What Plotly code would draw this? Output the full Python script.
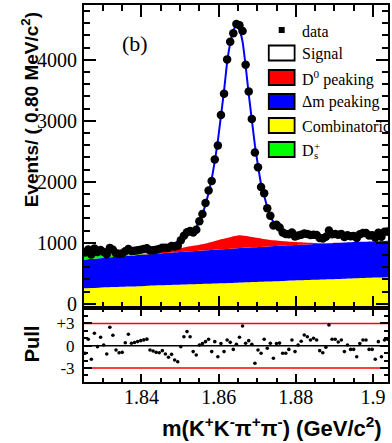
import numpy as np
import plotly.graph_objects as go

# ---------------- data ----------------
bin_lo = 1.825
bin_w = 0.0008
n_bins = 100

data_counts = [842, 891, 806, 904, 847, 881, 849, 812, 916, 885,
               828, 818, 822, 862, 897, 864, 870, 878, 887, 897,
               908, 874, 879, 885, 896, 918, 917, 917, 945, 938,
               951, 1041, 1114, 1173, 1191, 1167, 1215, 1354, 1471, 1652,
               1857, 2014, 2366, 2597, 3097, 3443, 4008, 4299, 4437, 4589,
               4566, 4474, 3920, 3480, 3031, 2479, 2237, 1914, 1811, 1566,
               1442, 1283, 1296, 1252, 1169, 1142, 1140, 1167, 1101, 1121,
               1130, 1153, 1142, 1126, 1133, 1126, 1079, 1071, 1098, 1201,
               1140, 1143, 1133, 1144, 1093, 1125, 1107, 1109, 1078, 1140,
               1158, 1161, 1121, 1124, 1082, 1165, 1099, 1179, 1185, 1166]

fit_total = [872, 866, 860, 855, 851, 848, 846, 845, 844, 844,
             845, 846, 848, 850, 852, 855, 858, 862, 867, 874,
             882, 891, 901, 912, 925, 938, 952, 966, 982, 999,
             1020, 1045, 1075, 1110, 1150, 1195, 1260, 1350, 1460, 1630,
             1820, 2050, 2340, 2675, 3080, 3490, 3960, 4270, 4470, 4575,
             4490, 4300, 3900, 3440, 3020, 2600, 2265, 1960, 1775, 1580,
             1430, 1345, 1285, 1240, 1205, 1177, 1157, 1141, 1128, 1118,
             1110, 1105, 1102, 1100, 1100, 1100, 1101, 1103, 1105, 1108,
             1111, 1114, 1116, 1118, 1120, 1122, 1124, 1126, 1128, 1130,
             1132, 1135, 1138, 1141, 1144, 1147, 1150, 1153, 1156, 1159]

pulls = [-1.03, 0.86, -1.84, 1.68, -0.13, 1.14, 0.10, -1.12, 2.49, 1.40,
         -0.58, -0.95, -0.90, 0.40, 1.54, 0.32, 0.42, 0.55, 0.68, 0.78,
         0.88, -0.58, -0.72, -0.90, -0.95, -0.67, -1.12, -1.57, -1.17, -1.93,
         -2.16, -0.13, 1.20, 1.90, 1.20, -0.80, -1.26, 0.10, 0.30, 0.54,
         0.86, -0.80, 0.54, -1.50, 0.30, -0.80, 0.77, 0.45, -0.50, 0.20,
         1.13, 2.66, 0.32, 0.68, 0.20, -2.38, -0.58, -1.03, 0.86, -0.35,
         0.32, -1.70, 0.30, 0.35, -1.03, -1.03, -0.50, 0.77, -0.80, 0.10,
         0.60, 1.45, 1.20, 0.77, 1.00, 0.77, -0.67, -0.95, -0.20, 2.80,
         0.86, 0.86, 0.50, 0.77, -0.80, 0.10, -0.50, -0.50, -1.50, 0.30,
         0.77, 0.77, -0.50, -0.50, -1.84, 0.54, -1.50, 0.77, 0.86, 0.20]

# background components sampled every 4 MeV from 1.825 to 1.905
comp_lo = 1.825
comp_step = 0.004
combinatoric = [255, 264, 273, 282, 292, 301, 310, 319, 328, 337, 346,
                356, 365, 374, 383, 392, 401, 410, 420, 429, 438]
dm_peaking = [467, 481, 493, 504, 514, 524, 533, 542, 550, 558, 565,
              570, 575, 580, 584, 588, 591, 594, 595, 597, 598]
ds_comp = [70, 68, 50, 22, 4, 0, 0, 0, 0, 0, 0,
           0, 0, 0, 0, 0, 0, 0, 0, 0, 0]
d0_peaking = [0, 0, 0, 0, 8, 30, 55, 85, 115, 165, 210,
              165, 110, 70, 40, 15, 5, 0, 0, 0, 0]

x_tick_vals = [1.84, 1.86, 1.88, 1.9]
x_tick_text = ["1.84", "1.86", "1.88", "1.9"]
pull_tick_vals = [-3, 0, 3]
pull_tick_text = ["-3", "0", "+3"]
pull_limits = [3, -3]

legend_labels = ["data", "Signal", "D<sup>0</sup> peaking", "\u0394m peaking", "Combinatoric", "D"]
legend_colors = [None, "#ffffff", "#ff0000", "#0000ff", "#ffff00", "#00ff00"]

# ---------------- geometry ----------------
W, H = 392, 443
ML, MR, MT, MB = 84, 2, 5, 61
PW, PH = W - ML - MR, H - MT - MB
split_px = 307.5
split = (H - MB - split_px) / PH

x_range = [1.8251, 1.9039]
y_range = [-62, 4900]
y2_range = [-4.9, 5.15]


def px_x(px):
    return (px - ML) / PW


def px_y(py):
    return (H - MB - py) / PH


centers = bin_lo + bin_w * (np.arange(n_bins) + 0.5)
knots = comp_lo + comp_step * np.arange(len(combinatoric))

c1 = np.array(combinatoric, float)
c2 = c1 + np.array(dm_peaking, float)
c3 = c2 + np.array(ds_comp, float)
c4 = c3 + np.array(d0_peaking, float)

fig = go.Figure()
fig.add_trace(go.Scatter(x=knots, y=[y_range[0]] * len(knots), mode="lines",
                         line=dict(width=0), showlegend=False, hoverinfo="skip"))
for cum, col in [(c1, "#ffff00"), (c2, "#0000ff"), (c3, "#00ff00"), (c4, "#ff0000")]:
    fig.add_trace(go.Scatter(x=knots, y=cum, mode="lines", fill="tonexty",
                             fillcolor=col, line=dict(width=0, shape="spline", smoothing=0.6),
                             showlegend=False, hoverinfo="skip"))

fig.add_trace(go.Scatter(x=centers, y=fit_total, mode="lines",
                         line=dict(color="#0000ff", width=2, shape="spline", smoothing=0.5),
                         showlegend=False))
fig.add_trace(go.Scatter(x=centers, y=data_counts, mode="markers",
                         marker=dict(color="black", size=8.5), showlegend=False))

fig.add_trace(go.Scatter(x=centers, y=pulls, mode="markers", xaxis="x2", yaxis="y2",
                         marker=dict(color="black", size=3.6), showlegend=False))

shapes = []
for v in pull_limits:
    shapes.append(dict(type="line", xref="x2 domain", x0=0, x1=1, yref="y2", y0=v, y1=v,
                       line=dict(color="#ff0000", width=1.5), layer="below"))
shapes.append(dict(type="line", xref="x2 domain", x0=0, x1=1, yref="y2", y0=0, y1=0,
                   line=dict(color="black", width=1.5), layer="below"))

# legend
annotations = []
serif = "Liberation Serif"
sans = "Liberation Sans"
row_y = [30, 53, 77.5, 101.5, 125.5, 149.5]
box_x0, box_x1, text_x = 270, 296, 301
for i, (lab, col) in enumerate(zip(legend_labels, legend_colors)):
    yc = row_y[i]
    if col is None:
        shapes.append(dict(type="rect", xref="paper", yref="paper",
                           x0=px_x(280), x1=px_x(286), y0=px_y(yc + 3), y1=px_y(yc - 3),
                           fillcolor="black", line=dict(width=0)))
    else:
        shapes.append(dict(type="rect", xref="paper", yref="paper",
                           x0=px_x(box_x0), x1=px_x(box_x1), y0=px_y(yc + 7.5), y1=px_y(yc - 7.5),
                           fillcolor=col, line=dict(color="black", width=1.8)))
    annotations.append(dict(text=lab, xref="paper", yref="paper", x=px_x(text_x), y=px_y(yc + 1),
                            xanchor="left", yanchor="middle", showarrow=False,
                            font=dict(family=serif, size=16, color="black")))
# D_s^+ sub/superscripts
annotations.append(dict(text="s", xref="paper", yref="paper", x=px_x(314), y=px_y(row_y[5] + 5),
                        xanchor="left", yanchor="middle", showarrow=False,
                        font=dict(family=serif, size=11, color="black")))
annotations.append(dict(text="+", xref="paper", yref="paper", x=px_x(313.5), y=px_y(row_y[5] - 4),
                        xanchor="left", yanchor="middle", showarrow=False,
                        font=dict(family=serif, size=11, color="black")))

annotations.append(dict(text="(b)", xref="paper", yref="paper", x=px_x(135), y=px_y(43),
                        xanchor="center", yanchor="middle", showarrow=False,
                        font=dict(family=serif, size=22, color="black")))
annotations.append(dict(text="<b>Events/ ( 0.80 MeV/c<sup>2</sup>)</b>", xref="paper", yref="paper",
                        x=px_x(30), y=px_y(110), textangle=-90, xanchor="center", yanchor="middle",
                        showarrow=False, font=dict(family=sans, size=19, color="black")))
annotations.append(dict(text="<b>Pull</b>", xref="paper", yref="paper",
                        x=px_x(32), y=px_y(344), textangle=-90, xanchor="center", yanchor="middle",
                        showarrow=False, font=dict(family=sans, size=20, color="black")))
annotations.append(dict(text="<b>m(K<sup>+</sup>K<sup>-</sup>\u03c0<sup>+</sup>\u03c0<sup>-</sup>) (GeV/c<sup>2</sup>)</b>",
                        xref="paper", yref="paper", x=px_x(273), y=px_y(427),
                        xanchor="center", yanchor="middle", showarrow=False,
                        font=dict(family=sans, size=22, color="black")))

axis_common = dict(showline=True, linewidth=2, linecolor="black", mirror="ticks",
                   ticks="inside", tickcolor="black", tickwidth=1.5,
                   showgrid=False, zeroline=False)

fig.update_layout(
    width=W, height=H, margin=dict(l=ML, r=MR, t=MT, b=MB),
    paper_bgcolor="white", plot_bgcolor="white", showlegend=False,
    xaxis=dict(domain=[0, 1], anchor="y", range=x_range, showticklabels=False,
               tickmode="array", tickvals=x_tick_vals, ticklen=12,
               minor=dict(ticks="inside", ticklen=6, tickmode="linear", tick0=1.84, dtick=0.005,
                          tickcolor="black", tickwidth=1.5),
               **axis_common),
    yaxis=dict(domain=[split, 1], anchor="x", range=y_range, tickmode="linear", tick0=0, dtick=1000,
               ticklen=12, ticklabelstandoff=1,
               tickfont=dict(family=serif, size=20, color="black"),
               minor=dict(ticks="inside", ticklen=6, tickmode="linear", tick0=0, dtick=200,
                          tickcolor="black", tickwidth=1.5),
               **axis_common),
    xaxis2=dict(domain=[0, 1], anchor="y2", range=x_range, matches="x",
                tickmode="array", tickvals=x_tick_vals, ticktext=x_tick_text, ticklen=8,
                ticklabelstandoff=-4,
                tickfont=dict(family=serif, size=20, color="black"),
                minor=dict(ticks="inside", ticklen=4, tickmode="linear", tick0=1.84, dtick=0.005,
                           tickcolor="black", tickwidth=1.5),
                **axis_common),
    yaxis2=dict(domain=[0, split], anchor="x2", range=y2_range,
                tickmode="array", tickvals=pull_tick_vals, ticktext=pull_tick_text, ticklen=8,
                ticklabelstandoff=4,
                tickfont=dict(family=serif, size=17, color="black"),
                minor=dict(ticks="inside", ticklen=4, tickmode="linear", tick0=0, dtick=1,
                           tickcolor="black", tickwidth=1.5),
                **axis_common),
    shapes=shapes, annotations=annotations,
)

fig.write_html("out.html", config={"displayModeBar": False},
               post_script="document.body.style.margin='0';document.body.style.overflow='hidden';")
